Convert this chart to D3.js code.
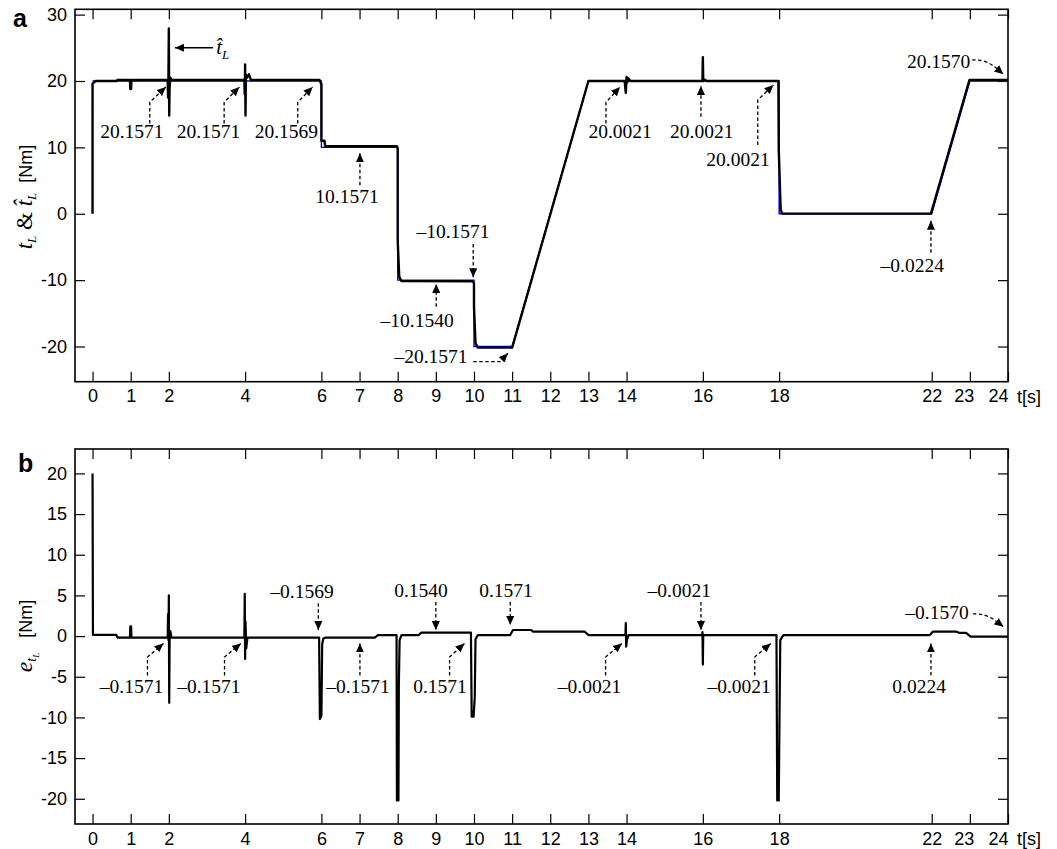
<!DOCTYPE html>
<html><head><meta charset="utf-8">
<script src="https://cdn.jsdelivr.net/npm/d3@7"></script>
<style>body{margin:0;background:#fff} svg{display:block}</style>
</head><body><svg id="c" width="1057" height="849"></svg>
<script>
// ---------------- data ----------------
const xTicks = [0,1,2,4,6,7,8,9,10,11,12,13,14,16,18,22,23,24];
const yTicksA = [-20,-10,0,10,20,30];
const yTicksB = [-20,-15,-10,-5,0,5,10,15,20];

// reference load torque t_L (blue)
const refT = [0,6,6,8,8,10,10,11,13,18,18,22,23,24];
const refV = [20,20,10,10,-10,-10,-20,-20,20,20,0,0,20,20];

// estimated load torque (black)
const estT = [0,0,0.08,0.63,0.65,0.98,0.99,1.01,1.02,1.97,1.98,1.99,2.0,2.01,2.02,2.04,2.08,3.98,3.99,4.0,4.01,4.02,4.05,4.1,4.15,5.95,6.0,6.0,6.08,6.1,7.98,8.0,8.0,8.04,8.1,9.97,10.0,10.0,10.04,10.1,11.0,11.03,13.0,13.05,13.95,13.98,14.0,14.02,14.05,14.1,15.99,16.0,16.01,16.05,16.1,17.98,17.99,18.04,18.08,21.98,22.99,24];
const estV = [0,19.6,20.0,20.0,20.16,20.16,18.8,18.8,20.16,20.16,17.5,20.5,27.9,14.8,19.0,20.5,20.16,20.16,18.0,22.5,14.8,21.0,20.5,21.0,20.16,20.16,19.5,11.0,11.0,10.16,10.16,9.8,-4.0,-9.5,-10.15,-10.16,-10.5,-14.0,-19.5,-20.16,-20.16,-19.6,20.0,20.0,20.0,18.2,20.6,19.8,20.4,20.0,20.0,23.6,20.0,20.2,20.0,20.0,9.7,0.6,0.02,0.02,20.16,20.16];

// error e_tL
const errT = [0,0.01,0.62,0.66,0.98,0.99,1.01,1.02,1.97,1.98,1.99,2.0,2.01,2.02,2.04,2.07,3.98,3.99,4.0,4.01,4.03,4.06,5.94,5.96,6.0,6.02,6.05,6.1,7.4,7.48,7.97,7.98,8.02,8.03,8.05,8.1,8.55,8.62,9.92,9.94,9.99,10.02,10.04,10.1,10.95,11.02,11.5,11.55,12.9,13.0,13.97,13.98,13.99,14.01,14.05,15.98,15.99,16.0,16.01,17.93,17.95,17.99,18.01,18.03,18.08,18.12,21.95,22.03,22.65,22.72,22.9,23.02,24];
const errV = [20,0.15,0.15,-0.2,-0.2,1.2,1.2,-0.2,-0.2,2.7,-0.5,5.0,-8.2,-0.5,0.6,-0.2,-0.2,5.2,-2.8,1.8,-1.5,-0.2,-0.2,-10.2,-9.8,-1.0,-0.3,-0.2,-0.2,0.13,0.13,-20.2,-20.2,-6.0,-0.5,0.13,0.13,0.42,0.42,-9.9,-9.9,-7.5,-0.4,0.13,0.13,0.75,0.75,0.54,0.54,0.13,0.13,1.6,-1.3,-0.5,0.13,0.13,0.5,-3.5,0.13,0.13,-20.2,-20.2,-9.8,-0.5,-0.1,0.13,0.13,0.54,0.54,0.4,0.4,-0.07,-0.07];

// annotations (data units): text, anchor point, arrow path (last point = arrow tip)
const annTextA = ["20.1571","20.1571","20.1569","10.1571","\u201310.1571","\u201310.1540","\u201320.1571","20.0021","20.0021","20.0021","20.1570","\u20130.0224"];
const annPosA  = [[1.03,11.4],[3.04,11.4],[5.08,11.4],[6.67,1.6],[9.45,-3.65],[8.51,-17.05],[9.83,-22.48],[13.83,11.4],[15.97,11.4],[16.92,7.2],[22.18,21.96],[21.49,-8.8]];
const annPathA = [
  [[1.50,13.6],[1.50,16.8],[1.92,19.1]],
  [[3.45,13.6],[3.45,16.8],[3.85,19.1]],
  [[5.38,13.6],[5.38,16.8],[5.77,19.1]],
  [[7.01,4.3],[7.01,9.1]],
  [[9.98,-4.55],[9.98,-9.57]],
  [[9.01,-14.0],[9.01,-10.58]],
  [[9.98,-22.28],[10.68,-22.28],[10.89,-21.02]],
  [[13.46,13.6],[13.46,16.8],[13.83,19.1]],
  [[15.95,14.6],[15.95,19.25]],
  [[17.44,10.36],[17.44,17.14],[17.85,19.4]],
  [[23.06,23.17],[23.45,23.17],[23.88,21.02]],
  [[21.98,-5.86],[21.98,-1.04]]
];
const annCurveA = [0,0,0,0,0,0,0,0,0,0,1,0];

const annTextB = ["\u20130.1569","0.1540","0.1571","\u20130.0021","\u20130.1570","\u20130.1571","\u20130.1571","\u20130.1571","0.1571","\u20130.0021","\u20130.0021","0.0224"];
const annPosB  = [[5.49,4.68],[8.61,4.81],[10.84,4.81],[15.38,4.81],[22.14,2.1],[1.02,-7.0],[3.05,-7.0],[6.96,-7.0],[9.11,-7.0],[13.03,-7.0],[16.95,-7.0],[21.67,-7.0]];
const annPathB = [
  [[5.92,4.03],[5.92,0.75]],
  [[9.0,4.19],[9.0,0.75]],
  [[10.95,4.19],[10.95,1.36]],
  [[15.95,4.19],[15.95,0.75]],
  [[23.08,2.72],[23.45,2.72],[23.88,1.16]],
  [[1.44,-4.84],[1.44,-2.57],[1.86,-0.9]],
  [[3.46,-4.84],[3.46,-2.57],[3.89,-0.9]],
  [[7.01,-4.84],[7.01,-0.9]],
  [[9.36,-4.84],[9.36,-2.57],[9.75,-0.9]],
  [[13.45,-4.84],[13.45,-2.57],[13.88,-0.9]],
  [[17.36,-4.84],[17.36,-2.57],[17.78,-0.9]],
  [[21.98,-4.84],[21.98,-0.9]]
];
const annCurveB = [0,0,0,0,1,0,0,0,0,0,0,0];

// ---------------- drawing ----------------
const svg = d3.select('#c');
const SANS = 'Liberation Sans, Arial, Helvetica, sans-serif';
const SERIF = 'Liberation Serif, Times New Roman, serif';
const L = 75, R = 1008;
const x = d3.scaleLinear().domain([-0.46, 24]).range([L, R]);

const defs = svg.append('defs');
defs.append('marker').attr('id','ah').attr('viewBox','0 0 10 10').attr('refX',10).attr('refY',5)
  .attr('markerWidth',9).attr('markerHeight',9).attr('markerUnits','userSpaceOnUse').attr('orient','auto')
  .append('path').attr('d','M0,0.5 L10,5 L0,9.5 Z').attr('fill','#000');

function panel(id, top, bottom, ydom, yticks) {
  const y = d3.scaleLinear().domain(ydom).range([bottom, top]);
  const g = svg.append('g');
  defs.append('clipPath').attr('id','clip'+id).append('rect')
    .attr('x',L).attr('y',top).attr('width',R-L).attr('height',bottom-top);
  const fmt = d => String(d);
  const bx = g.append('g').attr('transform',`translate(0,${bottom})`)
    .call(d3.axisBottom(x).tickValues(xTicks).tickSizeInner(-10).tickSizeOuter(0).tickPadding(8).tickFormat(fmt));
  const tx = g.append('g').attr('transform',`translate(0,${top})`)
    .call(d3.axisTop(x).tickValues(xTicks).tickSizeInner(-10).tickSizeOuter(0).tickFormat(''));
  const ly = g.append('g').attr('transform',`translate(${L},0)`)
    .call(d3.axisLeft(y).tickValues(yticks).tickSizeInner(-10).tickSizeOuter(0).tickPadding(8).tickFormat(fmt));
  const ry = g.append('g').attr('transform',`translate(${R},0)`)
    .call(d3.axisRight(y).tickValues(yticks).tickSizeInner(-10).tickSizeOuter(0).tickFormat(''));
  [bx,tx,ly,ry].forEach(a => {
    a.select('.domain').remove();
    a.selectAll('line').attr('stroke','#000').attr('stroke-width',1.2);
    a.selectAll('text').attr('font-family',SANS).attr('font-size',18).attr('fill','#000');
  });
  bx.selectAll('.tick text').attr('dx', d => d===23 ? -6 : d===24 ? -10 : 0);
  g.append('text').attr('x',1017).attr('y',bottom+21).attr('font-family',SANS).attr('font-size',18).text('t[s]');
  g.append('rect').attr('x',L).attr('y',top).attr('width',R-L).attr('height',bottom-top)
    .attr('fill','none').attr('stroke','#000').attr('stroke-width',1.6);
  return {g, y, clip:'url(#clip'+id+')'};
}

function drawAnn(p, texts, pos, paths, curves, ybase) {
  texts.forEach((t,i) => {
    const pts = paths[i].map(d => [x(d[0]), p.y(d[1])]);
    const line = d3.line().curve(curves[i] ? d3.curveBasis : d3.curveLinear);
    p.g.append('path').attr('d', line(pts)).attr('fill','none').attr('stroke','#000')
      .attr('stroke-width',1.3).attr('stroke-dasharray','3.5,2.5').attr('marker-end','url(#ah)');
    const anchor = (i === 6 && ybase === 'a') ? 'end' : 'middle';
    p.g.append('text').attr('x', x(pos[i][0])).attr('y', p.y(pos[i][1])).attr('text-anchor',anchor)
      .attr('font-family',SERIF).attr('font-size',19.5).text(t);
  });
}

// ---- panel a ----
const pa = panel('a', 9.3, 381.7, [-25.3, 30.8], yTicksA);
const la = d3.line().x(d => x(d[0])).y(d => pa.y(d[1]));
pa.g.append('path').attr('clip-path',pa.clip).attr('d', la(d3.zip(refT, refV)))
  .attr('fill','none').attr('stroke','#0000ff').attr('stroke-width',1.4);
pa.g.append('path').attr('clip-path',pa.clip).attr('d', la(d3.zip(estT, estV)))
  .attr('fill','none').attr('stroke','#000').attr('stroke-width',2.4).attr('stroke-linejoin','round');
drawAnn(pa, annTextA, annPosA, annPathA, annCurveA, 'a');

// t-hat label with solid arrow
pa.g.append('path').attr('d', d3.line()([[x(3.16), pa.y(25.0)], [x(2.16), pa.y(25.0)]]))
  .attr('stroke','#000').attr('stroke-width',1.6).attr('marker-end','url(#ah)');
const th = pa.g.append('text').attr('x', x(3.24)).attr('y', pa.y(24.0)).attr('font-family',SERIF).attr('font-style','italic').attr('font-size',21);
th.append('tspan').text('t\u0302');
th.append('tspan').attr('font-size',13).attr('dy',5).text('L');

// ---- panel b ----
const pb = panel('b', 449, 824, [-23.1, 23], yTicksB);
const lb = d3.line().x(d => x(d[0])).y(d => pb.y(d[1]));
pb.g.append('path').attr('clip-path',pb.clip).attr('d', lb(d3.zip(errT, errV)))
  .attr('fill','none').attr('stroke','#000').attr('stroke-width',2.2).attr('stroke-linejoin','round');
drawAnn(pb, annTextB, annPosB, annPathB, annCurveB, 'b');

// axis titles
const ya = svg.append('text').attr('transform','translate(32,197) rotate(-90)').attr('text-anchor','middle');
ya.append('tspan').attr('font-family',SERIF).attr('font-style','italic').attr('font-size',23).text('t');
ya.append('tspan').attr('font-family',SERIF).attr('font-style','italic').attr('font-size',13).attr('dy',4).text('L');
ya.append('tspan').attr('font-family',SERIF).attr('font-size',23).attr('dy',-4).text('\u00a0&\u00a0');
ya.append('tspan').attr('font-family',SERIF).attr('font-style','italic').attr('font-size',23).text('t\u0302');
ya.append('tspan').attr('font-family',SERIF).attr('font-style','italic').attr('font-size',13).attr('dy',4).text('L');
ya.append('tspan').attr('font-family',SANS).attr('font-size',18).attr('dy',-4).text('\u00a0\u00a0[Nm]');

const yb = svg.append('text').attr('transform','translate(32,636) rotate(-90)').attr('text-anchor','middle');
yb.append('tspan').attr('font-family',SERIF).attr('font-style','italic').attr('font-size',24).text('e');
yb.append('tspan').attr('font-family',SERIF).attr('font-style','italic').attr('font-size',14).attr('dy',4).text('t');
yb.append('tspan').attr('font-family',SERIF).attr('font-style','italic').attr('font-size',9).attr('dy',3).text('L');
yb.append('tspan').attr('font-family',SANS).attr('font-size',18).attr('dy',-7).text('\u00a0\u00a0\u00a0[Nm]');

// panel letters
svg.append('text').attr('x',13).attr('y',27).attr('font-family',SANS).attr('font-weight','bold').attr('font-size',25).text('a');
svg.append('text').attr('x',18).attr('y',472).attr('font-family',SANS).attr('font-weight','bold').attr('font-size',25).text('b');
</script></body></html>
